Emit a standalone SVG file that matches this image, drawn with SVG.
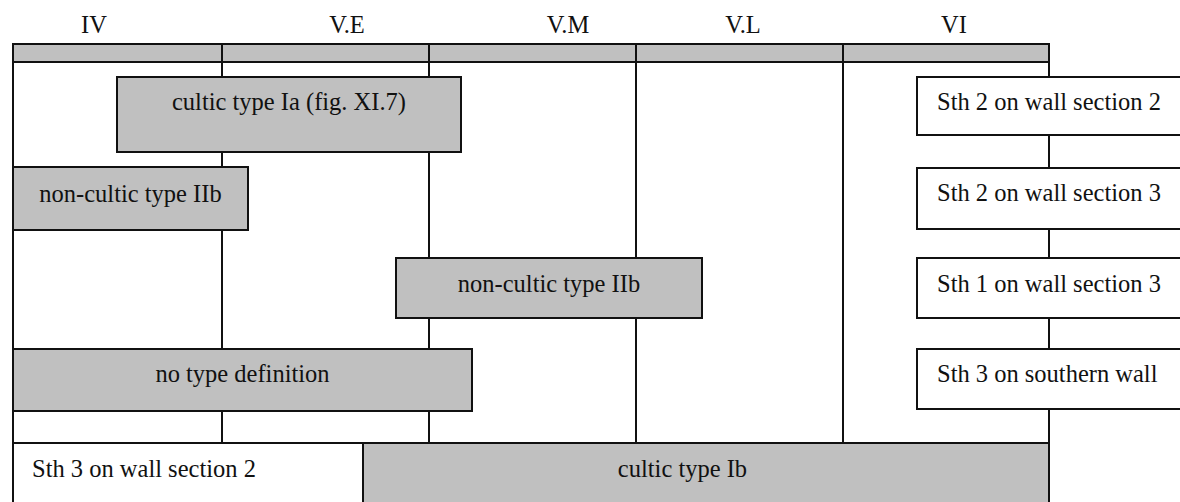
<svg xmlns="http://www.w3.org/2000/svg" width="1180" height="502" viewBox="0 0 1180 502">
  <style>
    .t { font-family: "Liberation Serif", "Times New Roman", serif; font-size: 24.5px; fill: #111; }
    .c { text-anchor: middle; }
    .g { fill: #c0c0c0; stroke: #111; stroke-width: 2; }
    .w { fill: #ffffff; stroke: #111; stroke-width: 2; }
    .ln { stroke: #111; stroke-width: 2; fill: none; }
  </style>
  <rect x="0" y="0" width="1180" height="502" fill="#ffffff"/>

  <g id="header">
    <rect class="g" x="13" y="44" width="1036" height="18"/>
    <line class="ln" x1="222" y1="44" x2="222" y2="62"/>
    <line class="ln" x1="429" y1="44" x2="429" y2="62"/>
    <line class="ln" x1="636" y1="44" x2="636" y2="62"/>
    <line class="ln" x1="843" y1="44" x2="843" y2="62"/>
    <text class="t c" x="94" y="33">IV</text>
    <text class="t c" x="347" y="33">V.E</text>
    <text class="t c" x="568" y="33">V.M</text>
    <text class="t c" x="743" y="33">V.L</text>
    <text class="t c" x="954" y="33">VI</text>
  </g>

  <g id="connectors">
    <line class="ln" x1="13" y1="62" x2="13" y2="510"/>
    <line class="ln" x1="222" y1="62" x2="222" y2="443"/>
    <line class="ln" x1="429" y1="62" x2="429" y2="443"/>
    <line class="ln" x1="636" y1="62" x2="636" y2="443"/>
    <line class="ln" x1="843" y1="62" x2="843" y2="443"/>
    <line class="ln" x1="1049" y1="62" x2="1049" y2="443"/>
  </g>

  <g id="cultic-Ia">
    <rect class="g" x="117" y="77" width="344" height="75"/>
    <text class="t c" x="289" y="110">cultic type Ia (fig. XI.7)</text>
  </g>
  <g id="noncultic-IIb-1">
    <rect class="g" x="13" y="167" width="235" height="63"/>
    <text class="t c" x="130.5" y="202">non-cultic type IIb</text>
  </g>
  <g id="noncultic-IIb-2">
    <rect class="g" x="396" y="258" width="306" height="60"/>
    <text class="t c" x="549" y="292">non-cultic type IIb</text>
  </g>
  <g id="no-type">
    <rect class="g" x="13" y="349" width="459" height="62"/>
    <text class="t c" x="242.5" y="382">no type definition</text>
  </g>
  <g id="sth3-ws2">
    <rect class="w" x="13" y="443" width="350" height="70"/>
    <text class="t" x="32" y="477">Sth 3 on wall section 2</text>
  </g>
  <g id="cultic-Ib">
    <rect class="g" x="363" y="443" width="686" height="70"/>
    <text class="t c" x="682.5" y="477">cultic type Ib</text>
  </g>
  <g id="sth2-ws2">
    <rect class="w" x="917" y="77" width="270" height="58"/>
    <text class="t" x="937" y="110">Sth 2 on wall section 2</text>
  </g>
  <g id="sth2-ws3">
    <rect class="w" x="917" y="168" width="270" height="61"/>
    <text class="t" x="937" y="201">Sth 2 on wall section 3</text>
  </g>
  <g id="sth1-ws3">
    <rect class="w" x="917" y="258" width="270" height="60"/>
    <text class="t" x="937" y="292">Sth 1 on wall section 3</text>
  </g>
  <g id="sth3-south">
    <rect class="w" x="917" y="349" width="270" height="60"/>
    <text class="t" x="937" y="382">Sth 3 on southern wall</text>
  </g>
</svg>
